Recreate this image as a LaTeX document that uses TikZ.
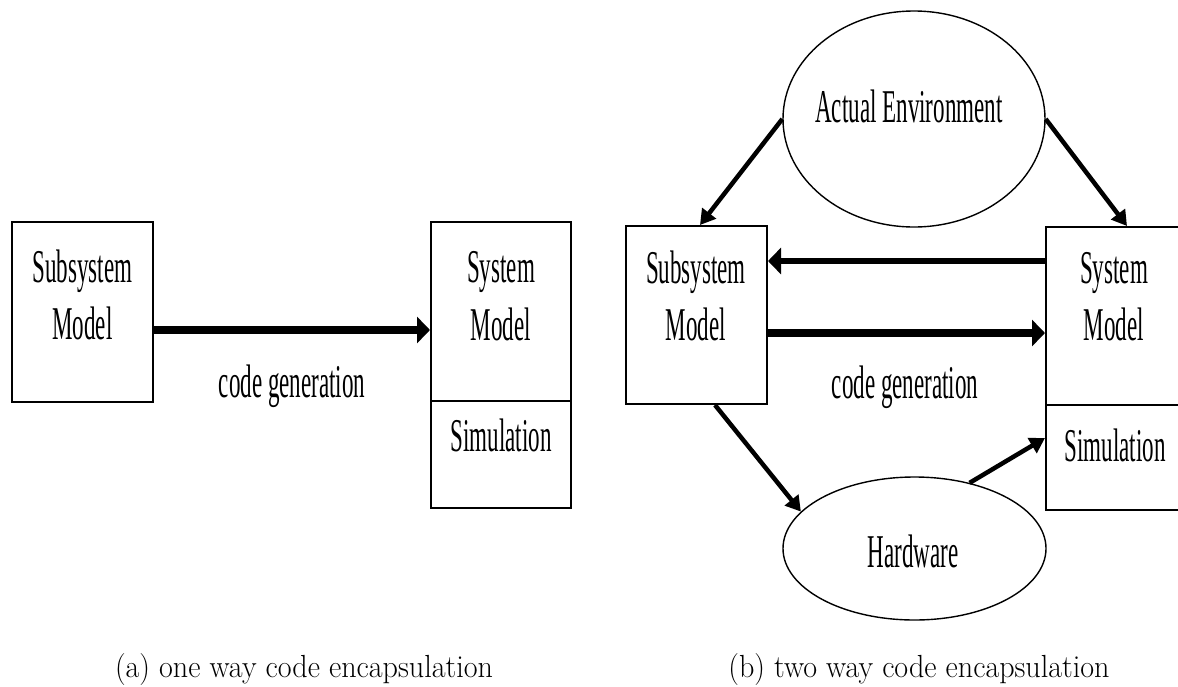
\documentclass[tikz,border=0pt]{standalone}
\usepackage{fontspec}
\usetikzlibrary{arrows.meta,shapes.geometric}
% condensed serif for the block labels, Latin Modern for the captions
\newfontfamily\figfont[FakeStretch=0.49]{Liberation Serif}
\newfontfamily\capfont[FakeStretch=0.94]{Latin Modern Roman}

\begin{document}
\begin{tikzpicture}[x=1pt,y=-1pt,
  box/.style={draw,line width=2pt,inner sep=0pt},
  oval/.style={draw,ellipse,line width=1.4pt,inner sep=0pt},
  lbl/.style={font=\figfont\fontsize{47}{56}\selectfont,inner sep=0pt,anchor=base},
  subcaption/.style={font=\capfont\fontsize{32}{38}\selectfont,inner sep=0pt,anchor=base},
  heavy/.style={line width=8pt,-{Triangle[length=13pt,width=26pt]}},
  medium/.style={line width=6pt,-{Triangle[length=13pt,width=26pt]}},
  slim/.style={line width=4.5pt,-{Triangle[length=15pt,width=17pt]}}
]
\useasboundingbox (0,0) rectangle (1178,686);

% ---------- (a) one way ----------
\node[box,minimum width=141pt,minimum height=180pt] (aSub) at (82.5,312) {};
\node[box,minimum width=140pt,minimum height=179pt] (aSys) at (501,311.5) {};
\node[box,minimum width=140pt,minimum height=107pt] (aSim) at (501,454.5) {};

\node[lbl] (aSubT1) at (82.5,282) {Subsystem};
\node[lbl] (aSubT2) at (82.5,339) {Model};
\node[lbl] (aSysT1) at (501,282) {System};
\node[lbl] (aSysT2) at (501,340) {Model};
\node[lbl] (aSimT) at (501,451) {Simulation};
\node[lbl] (aGen) at (292,397) {code generation};

\draw[heavy] (aSub.east |- 0,330) -- (aSys.west |- 0,330);

\node[subcaption] (aCap) at (304,677) {(a) one way code encapsulation};

% ---------- (b) two way ----------
\node[box,minimum width=141pt,minimum height=178pt] (bSub) at (696.5,315) {};
\node[box,minimum width=144pt,minimum height=178pt] (bSys) at (1118,316) {};
\node[box,minimum width=144pt,minimum height=105pt] (bSim) at (1118,457.5) {};
\node[oval,minimum width=262pt,minimum height=216pt] (ae) at (914,119) {};
\node[oval,minimum width=263pt,minimum height=143pt] (hw) at (914.5,548.5) {};

\node[lbl] (bSubT1) at (696,283) {Subsystem};
\node[lbl] (bSubT2) at (696,340) {Model};
\node[lbl] (bSysT1) at (1114,283) {System};
\node[lbl] (bSysT2) at (1114,340) {Model};
\node[lbl] (bSimT) at (1115,461) {Simulation};
\node[lbl] (bGen) at (905,398) {code generation};
\node[lbl] (aeT) at (909,122) {Actual Environment};
\node[lbl] (hwT) at (913,567) {Hardware};

\draw[slim] (ae.180) -- (700,0 |- bSub.north);
\draw[slim] (ae.0) -- (1127,0 |- bSys.north);
\draw[medium] (bSys.west |- 0,261) -- (bSub.east |- 0,261);
\draw[heavy] (bSub.east |- 0,333) -- (bSys.west |- 0,333);
\draw[slim] (715,0 |- bSub.south) -- (hw.162);
\draw[slim] (hw.50) -- (bSim.west |- 0,438);

\node[subcaption] (bCap) at (919,677) {(b) two way code encapsulation};
\end{tikzpicture}
\end{document}
